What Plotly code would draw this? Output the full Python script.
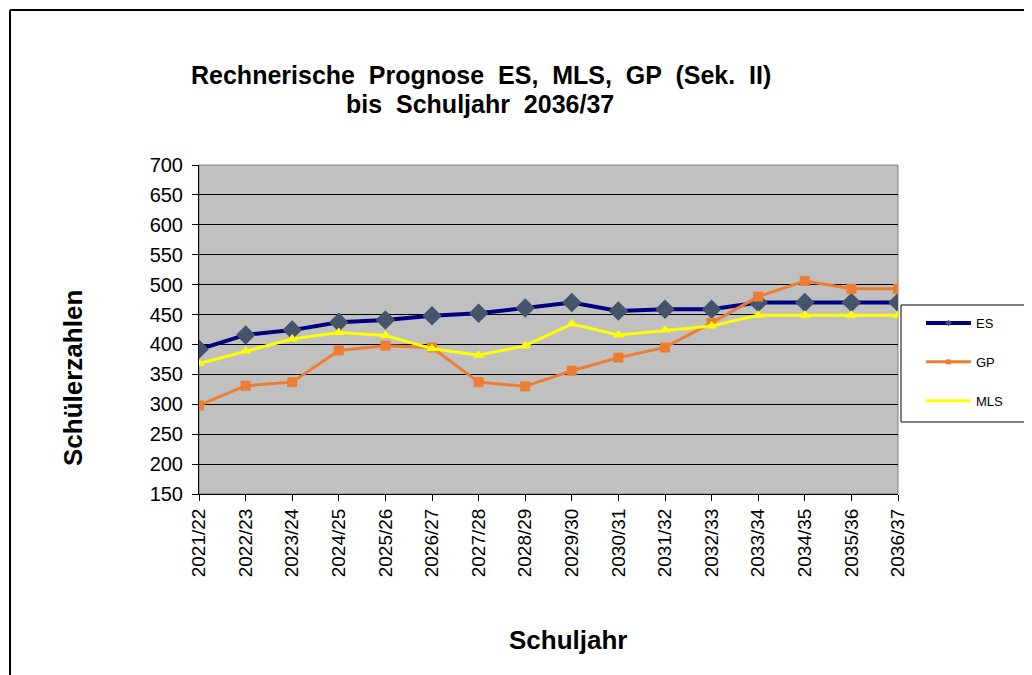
import plotly.graph_objects as go

years = ["2021/22", "2022/23", "2023/24", "2024/25", "2025/26", "2026/27", "2027/28", "2028/29",
         "2029/30", "2030/31", "2031/32", "2032/33", "2033/34", "2034/35", "2035/36", "2036/37"]
es = [392, 416, 424, 437, 441, 448, 452, 461, 470, 456, 459, 459, 470, 470, 470, 470]
gp = [298, 331, 337, 390, 398, 395, 337, 330, 356, 378, 395, 436, 480, 506, 493, 493]
mls = [368, 389, 409, 420, 415, 393, 382, 398, 434, 416, 424, 431, 449, 449, 449, 449]

FONT = "Liberation Sans, Arial, sans-serif"

# the page body has an 8px margin; work in reference-pixel coordinates and shift
O = 8
W, H = 1032 - O, 675 - O
L, R, T, B = 199 - O, 898 - O, 165 - O, 494 - O


def px(x):
    return (x - O - L) / (R - L)


def py(y):
    return (B - (y - O)) / (B - T)


series = [("ES", es, "#000080", 4, "diamond", 15, "#44546A"),
          ("GP", gp, "#ED7D31", 3, "square", 10, "#ED7D31"),
          ("MLS", mls, "#FFFF00", 3, "triangle-up", 10, "#FFFF00")]

fig = go.Figure()
for name, vals, col, lw, sym, ms, mc in series:
    fig.add_trace(go.Scatter(x=years, y=vals, name=name, mode="lines+markers", showlegend=False,
                             line=dict(color=col, width=lw),
                             marker=dict(symbol=sym, size=ms, color=mc)))
# legend entries with the small markers of the reference legend
for i, (name, vals, col, lw, sym, ms, mc) in enumerate(series):
    fig.add_trace(go.Scatter(x=[None], y=[None], name=name, mode="lines+markers",
                             legendgroup=str(i), line=dict(color=col, width=lw),
                             marker=dict(symbol=sym, size=5, color=mc)))


def ann(text, x, y, size, angle=0):
    return dict(text=text, x=px(x), y=py(y), xref="paper", yref="paper", showarrow=False,
                xanchor="center", yanchor="middle", textangle=angle,
                font=dict(size=size, family=FONT, color="black"))


fig.update_layout(
    width=W, height=H,
    margin=dict(l=L, r=W - R, t=T, b=H - B, pad=0),
    paper_bgcolor="white",
    plot_bgcolor="#C0C0C0",
    font=dict(family=FONT, color="black"),
    showlegend=True,
    legend=dict(x=px(921), xanchor="left", y=py(308), yanchor="top",
                borderwidth=0, bgcolor="rgba(0,0,0,0)",
                font=dict(size=13, family=FONT), tracegroupgap=19, itemwidth=45),
    xaxis=dict(type="category", range=[0, len(years) - 1], showgrid=False,
               showline=True, linecolor="black", linewidth=1,
               ticks="outside", ticklen=6, tickcolor="black", tickangle=-90,
               tickfont=dict(size=19, family=FONT), zeroline=False),
    yaxis=dict(range=[150, 700], dtick=50, showgrid=True, gridcolor="black", gridwidth=1,
               showline=True, linecolor="black", linewidth=1,
               ticks="outside", ticklen=6, tickcolor="black", ticklabelstandoff=5,
               tickfont=dict(size=20, family=FONT), zeroline=False),
    annotations=[
        ann("<b>Rechnerische  Prognose  ES,  MLS,  GP  (Sek.  II)</b>", 481, 75, 25),
        ann("<b>bis  Schuljahr  2036/37</b>", 480, 104, 25),
        ann("<b>Schülerzahlen</b>", 73, 378, 26, -90),
        ann("<b>Schuljahr</b>", 568, 640, 26),
    ],
    shapes=[
        dict(type="rect", xref="paper", yref="paper", x0=0, x1=1, y0=0, y1=1,
             line=dict(color="#808080", width=1), layer="below"),
        dict(type="rect", xref="paper", yref="paper", x0=px(901), x1=px(1030),
             y0=py(305), y1=py(422), line=dict(color="black", width=1),
             fillcolor="white", layer="below"),
        dict(type="line", xref="paper", yref="paper", x0=px(10), x1=px(1040),
             y0=py(10), y1=py(10), line=dict(color="black", width=2)),
        dict(type="line", xref="paper", yref="paper", x0=px(10), x1=px(10),
             y0=py(10), y1=py(690), line=dict(color="black", width=2)),
    ],
)

fig.write_html("out.html")
